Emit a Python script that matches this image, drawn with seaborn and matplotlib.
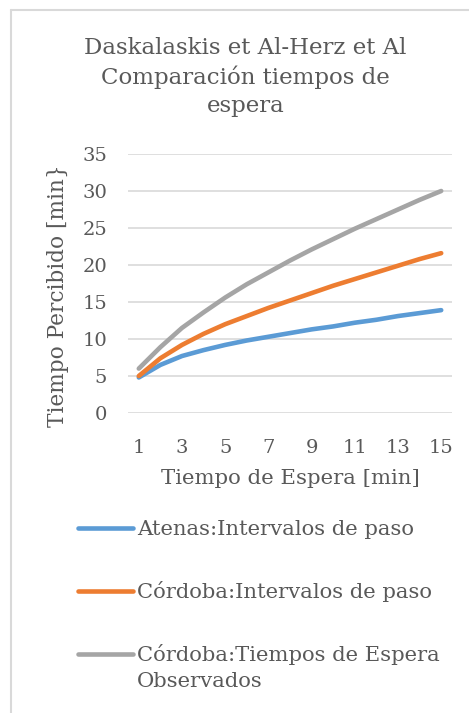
import matplotlib
matplotlib.use("Agg")
import matplotlib.pyplot as plt
from matplotlib.lines import Line2D
import pandas as pd
import seaborn as sns

# Waiting time [min] (category axis 1..15)
tiempo_espera = list(range(1, 16))

# Perceived time [min] for each series
atenas_intervalos = [4.8, 6.5, 7.7, 8.5, 9.2, 9.8, 10.3, 10.8, 11.3, 11.7, 12.2, 12.6, 13.1, 13.5, 13.9]
cordoba_intervalos = [5.0, 7.4, 9.2, 10.7, 12.0, 13.1, 14.2, 15.2, 16.2, 17.2, 18.1, 19.0, 19.9, 20.8, 21.6]
cordoba_observados = [6.0, 8.9, 11.5, 13.6, 15.6, 17.4, 19.0, 20.6, 22.1, 23.5, 24.9, 26.2, 27.5, 28.8, 30.0]

series_names = [
    "Atenas:Intervalos de paso",
    "Córdoba:Intervalos de paso",
    "Córdoba:Tiempos de Espera\nObservados",
]
series_colors = ["#5B9BD5", "#ED7D31", "#A5A5A5"]

titulo = "Daskalaskis et Al-Herz et Al\nComparación tiempos de\nespera"
x_label = "Tiempo de Espera [min]"
y_label = "Tiempo Percibido [min}"
x_ticks = [1, 3, 5, 7, 9, 11, 13, 15]
y_ticks = [0, 5, 10, 15, 20, 25, 30, 35]

df = pd.DataFrame({
    "t": tiempo_espera * 3,
    "v": atenas_intervalos + cordoba_intervalos + cordoba_observados,
    "serie": [series_names[0]] * 15 + [series_names[1]] * 15 + [series_names[2]] * 15,
})

sns.set_theme(style="white")
plt.rcParams["font.family"] = ["DejaVu Serif"]
text_color = "#595959"
grid_color = "#D9D9D9"

fig = plt.figure(figsize=(4.69, 7.13), dpi=100)
ax = fig.add_axes([128 / 469, 1 - 413 / 713, 324 / 469, 259 / 713])

sns.lineplot(data=df, x="t", y="v", hue="serie", hue_order=series_names,
             palette=series_colors, linewidth=3.3, legend=False, ax=ax,
             solid_capstyle="round", solid_joinstyle="round")

ax.set_xlim(0.5, 15.5)
ax.set_ylim(0, 35)
ax.set_xticks(x_ticks)
ax.set_yticks(y_ticks)
ax.set_xticklabels([str(t) for t in x_ticks], color=text_color, fontsize=14)
ax.set_yticklabels([str(t) for t in y_ticks], color=text_color, fontsize=14)
ax.tick_params(axis="both", length=0)
ax.tick_params(axis="x", pad=19)
ax.tick_params(axis="y", pad=15)
ax.yaxis.grid(True, color=grid_color, linewidth=1.2)
ax.set_axisbelow(True)
for s in ax.spines.values():
    s.set_visible(False)

ax.set_xlabel(x_label, color=text_color, fontsize=15.3, labelpad=8)
ax.set_ylabel(y_label, color=text_color, fontsize=15.6)
ax.yaxis.set_label_coords(-0.182, 0.452)

fig.text(0.523, 1 - 77 / 713, titulo, ha="center", va="center",
         multialignment="center", color=text_color, fontsize=16.5, linespacing=1.36)

# chart area frame (left and top edges)
fig.add_artist(Line2D([11 / 469, 11 / 469], [0, 1 - 10 / 713], transform=fig.transFigure,
                      color=grid_color, linewidth=1.5))
fig.add_artist(Line2D([11 / 469, 1], [1 - 10 / 713, 1 - 10 / 713], transform=fig.transFigure,
                      color=grid_color, linewidth=1.5))

handles = [Line2D([], [], color=c, linewidth=3.3, solid_capstyle="round") for c in series_colors]
leg = fig.legend(handles, series_names, loc="upper left",
                 bbox_to_anchor=(78 / 469, 1 - 520 / 713), frameon=False,
                 fontsize=15.2, handlelength=2.6, handletextpad=0.19,
                 labelspacing=2.0, borderpad=0, borderaxespad=0)
for t in leg.get_texts():
    t.set_color(text_color)
leg.get_texts()[2].set_linespacing(1.45)
# keep the two-line entry's swatch level with its first line
last = leg.legend_handles[2]
last.set_ydata([y + 9.7 for y in last.get_ydata()])

fig.savefig("out.png", dpi=100)
